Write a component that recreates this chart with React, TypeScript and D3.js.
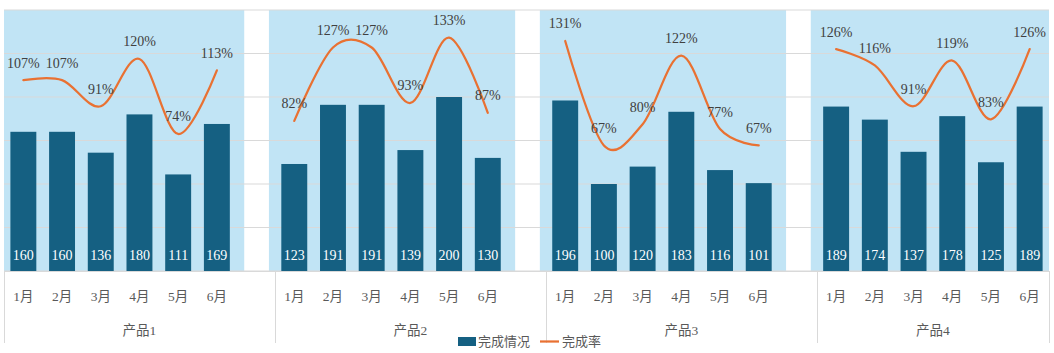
import React from "react";
import * as d3 from "d3";

const groups = ["产品1", "产品2", "产品3", "产品4"];
const months = ["1月", "2月", "3月", "4月", "5月", "6月"];
const done1 = [160, 160, 136, 180, 111, 169];
const done2 = [123, 191, 191, 139, 200, 130];
const done3 = [196, 100, 120, 183, 116, 101];
const done4 = [189, 174, 137, 178, 125, 189];
const rate1 = [107, 107, 91, 120, 74, 113];
const rate2 = [82, 127, 127, 93, 133, 87];
const rate3 = [131, 67, 80, 122, 77, 67];
const rate4 = [126, 116, 91, 119, 83, 126];
const doneSeries = [done1, done2, done3, done4];
const rateSeries = [rate1, rate2, rate3, rate4];
const yTicks = [0, 50, 100, 150, 200, 250, 300];
const legendNames = ["完成情况", "完成率"];

const W = 1054;
const H = 353;
const left = 4;
const right = 1049;
const top = 10;
const bottom = 271;

const BAR = "#156082";
const BG = "#C1E4F5";
const LINE = "#E97132";
const GRID = "#D9D9D9";
const SERIF = "'Liberation Serif', 'Noto Sans CJK SC', serif";

export default function App() {
  // categories: 6 months per group with a blank slot between groups
  const cats: string[] = [];
  groups.forEach((g, gi) => {
    months.forEach((m) => cats.push(`${g}-${m}`));
    if (gi < groups.length - 1) cats.push(`blank-${gi}`);
  });
  const x = d3.scaleBand<string>().domain(cats).range([left, right]).padding(0);
  const step = x.step();
  const barW = step * 0.67;
  const y = d3.scaleLinear().domain([0, 300]).range([bottom, top]);
  const y2 = d3.scaleLinear().domain([-10, 150]).range([bottom, top]);
  const cx = (g: number, i: number) => (x(`${groups[g]}-${months[i]}`) as number) + step / 2;

  const lineGen = d3
    .line<[number, number]>()
    .x((d) => d[0])
    .y((d) => d[1])
    .curve(d3.curveCatmullRom.alpha(0));

  const dividers = [...groups.map((g) => x(`${g}-${months[0]}`) as number), right];

  return (
    <svg width={W} height={H} style={{ position: "absolute", left: 0, top: 0 }}>
      <rect x={0} y={0} width={W} height={H} fill="#fff" />
      {/* group backgrounds */}
      {groups.map((g, gi) => {
        const start = x(`${g}-${months[0]}`) as number;
        const x0 = Math.max(left, start - 6);
        const x1 = Math.min(right, start + 6 * step + 8);
        return <rect key={g} x={x0} y={top} width={x1 - x0} height={bottom - top} fill={BG} />;
      })}
      {/* gridlines */}
      {yTicks.map((t) => (
        <line key={t} x1={left} x2={right} y1={y(t)} y2={y(t)} stroke={GRID} strokeWidth={1} />
      ))}
      {/* bars */}
      {doneSeries.map((vals, gi) =>
        vals.map((v, i) => (
          <rect
            key={`b${gi}-${i}`}
            x={cx(gi, i) - barW / 2}
            y={y(v)}
            width={barW}
            height={bottom - y(v)}
            fill={BAR}
          />
        ))
      )}
      {/* bar labels */}
      {doneSeries.map((vals, gi) =>
        vals.map((v, i) => (
          <text
            key={`bl${gi}-${i}`}
            x={cx(gi, i)}
            y={259.5}
            textAnchor="middle"
            fill="#fff"
            fontFamily={SERIF}
            fontSize={14}
          >
            {v}
          </text>
        ))
      )}
      {/* lines */}
      {rateSeries.map((vals, gi) => (
        <path
          key={`l${gi}`}
          d={lineGen(vals.map((v, i) => [cx(gi, i), y2(v)])) || ""}
          fill="none"
          stroke={LINE}
          strokeWidth={2.25}
          strokeLinecap="round"
        />
      ))}
      {/* line labels */}
      {rateSeries.map((vals, gi) =>
        vals.map((v, i) => (
          <text
            key={`ll${gi}-${i}`}
            x={cx(gi, i)}
            y={y2(v) - 12.5}
            textAnchor="middle"
            fill="#404040"
            fontFamily={SERIF}
            fontSize={14}
          >
            {v}%
          </text>
        ))
      )}
      {/* axis line */}
      <line x1={left} x2={right} y1={bottom + 0.5} y2={bottom + 0.5} stroke={GRID} strokeWidth={1} />
      {/* group dividers */}
      {dividers.map((px, i) => {
        const xx = Math.round(px) + 0.5;
        return (
          <line key={`d${i}`} x1={xx} x2={xx} y1={bottom} y2={343} stroke={GRID} strokeWidth={1} />
        );
      })}
      {/* month labels */}
      {groups.map((g, gi) =>
        months.map((m, i) => (
          <text
            key={`m${gi}-${i}`}
            x={cx(gi, i)}
            y={300.5}
            textAnchor="middle"
            fill="#595959"
            fontFamily={SERIF}
            fontSize={13.5}
          >
            {m}
          </text>
        ))
      )}
      {/* group labels */}
      {groups.map((g, gi) => {
        const mid = (dividers[gi] + dividers[gi + 1]) / 2;
        return (
          <text
            key={`g${gi}`}
            x={mid}
            y={335}
            textAnchor="middle"
            fill="#595959"
            fontFamily={SERIF}
            fontSize={13.5}
          >
            {g}
          </text>
        );
      })}
      {/* legend */}
      <rect x={458} y={337} width={18} height={9} fill={BAR} />
      <text x={478} y={346} fill="#595959" fontFamily={SERIF} fontSize={13}>
        {legendNames[0]}
      </text>
      <line x1={540} x2={559} y1={341.5} y2={341.5} stroke={LINE} strokeWidth={2.25} />
      <text x={562} y={346} fill="#595959" fontFamily={SERIF} fontSize={13}>
        {legendNames[1]}
      </text>
    </svg>
  );
}
